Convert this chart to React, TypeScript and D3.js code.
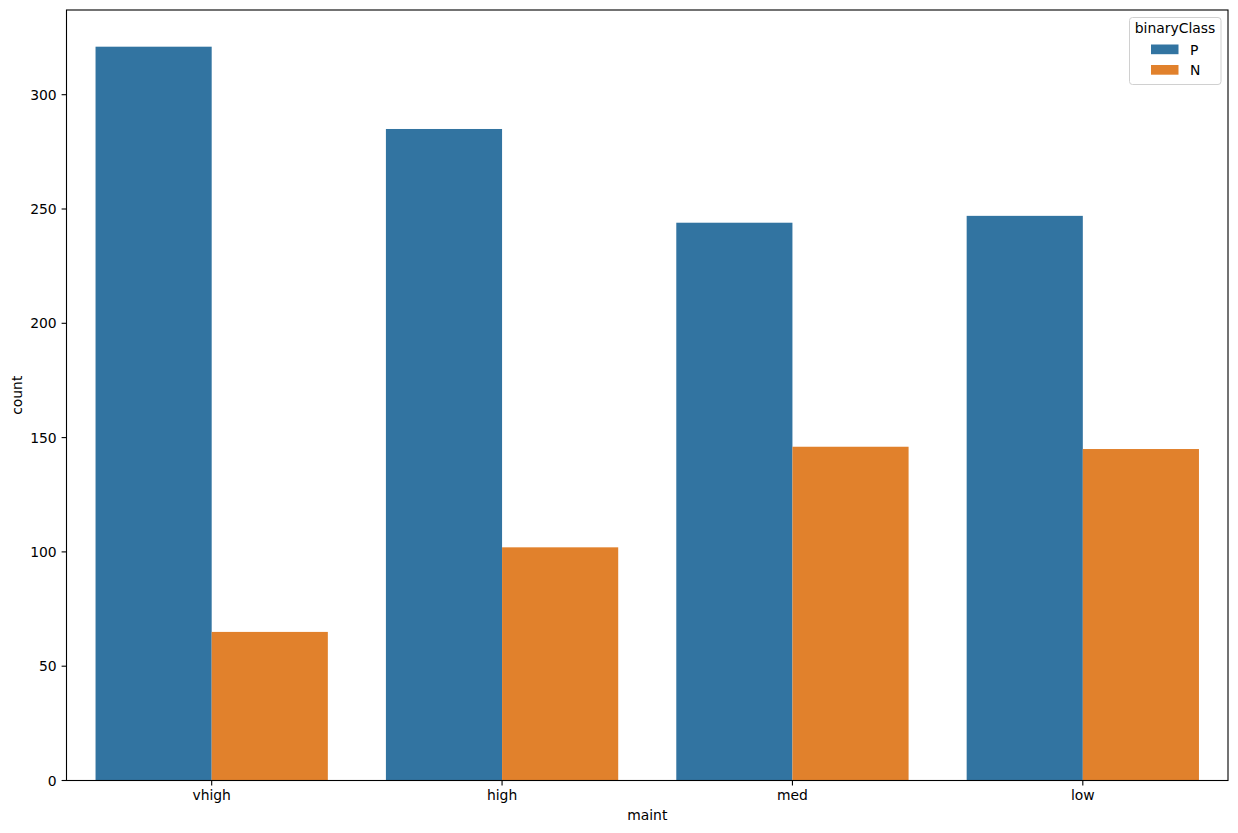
import React from "react";
import * as d3 from "d3";

const categories = ["vhigh", "high", "med", "low"];
const hues = ["P", "N"];
const countP = [321, 285, 244, 247];
const countN = [65, 102, 146, 145];
const hueColors = ["#3274a1", "#e1812c"];
const yTicks = [0, 50, 100, 150, 200, 250, 300];

const W = 1238;
const H = 833;
const M = { left: 66.5, right: 1228, top: 10, bottom: 780.5 };
const FONT = "DejaVu Sans, sans-serif";
const FS = 13.9;

export default function App() {
  const series = [countP, countN];
  const maxV = d3.max([...countP, ...countN]) as number;
  const y = d3.scaleLinear().domain([0, maxV * 1.05]).range([M.bottom, M.top]);
  const x = d3
    .scaleLinear()
    .domain([-0.5, categories.length - 0.5])
    .range([M.left, M.right]);
  const barW = 0.8 / hues.length;

  return (
    <svg
      width={W}
      height={H}
      style={{ position: "absolute", left: 0, top: 0, background: "#fff" }}
      fontFamily={FONT}
    >
      <rect x={0} y={0} width={W} height={H} fill="#fff" />
      {categories.map((c, i) =>
        hues.map((h, j) => {
          const x0 = x(i - 0.4 + j * barW);
          const x1 = x(i - 0.4 + (j + 1) * barW);
          const v = series[j][i];
          return (
            <rect
              key={c + h}
              x={x0}
              y={y(v)}
              width={x1 - x0}
              height={y(0) - y(v)}
              fill={hueColors[j]}
            />
          );
        })
      )}
      {/* spines */}
      <rect
        x={M.left}
        y={M.top}
        width={M.right - M.left}
        height={M.bottom - M.top}
        fill="none"
        stroke="#000"
        strokeWidth={1.1}
      />
      {/* y ticks */}
      {yTicks.map((t) => (
        <g key={t}>
          <line x1={M.left - 4.9} x2={M.left} y1={y(t)} y2={y(t)} stroke="#000" strokeWidth={1.1} />
          <text
            x={M.left - 9.8}
            y={y(t)}
            textAnchor="end"
            dominantBaseline="central"
            fontSize={FS}
            fill="#000"
          >
            {t}
          </text>
        </g>
      ))}
      {/* x ticks */}
      {categories.map((c, i) => (
        <g key={c}>
          <line x1={x(i)} x2={x(i)} y1={M.bottom} y2={M.bottom + 4.9} stroke="#000" strokeWidth={1.1} />
          <text x={x(i)} y={M.bottom + 19} textAnchor="middle" fontSize={FS} fill="#000">
            {c}
          </text>
        </g>
      ))}
      <text x={(M.left + M.right) / 2} y={820} textAnchor="middle" fontSize={FS} fill="#000">
        maint
      </text>
      <text
        transform={`translate(22,${(M.top + M.bottom) / 2}) rotate(-90)`}
        textAnchor="middle"
        fontSize={FS}
        fill="#000"
      >
        count
      </text>
      {/* legend */}
      <g>
        <rect
          x={1129.5}
          y={17.5}
          width={91.5}
          height={67}
          rx={3}
          fill="#fff"
          fillOpacity={0.8}
          stroke="#d0d0d0"
          strokeWidth={1}
        />
        <text x={1175} y={33} textAnchor="middle" fontSize={FS} fill="#000">
          binaryClass
        </text>
        {hues.map((h, j) => (
          <g key={h}>
            <rect x={1151} y={44.5 + j * 20.5} width={27.5} height={9.7} fill={hueColors[j]} />
            <text x={1190} y={49.5 + j * 20.5} dominantBaseline="central" fontSize={FS} fill="#000">
              {h}
            </text>
          </g>
        ))}
      </g>
    </svg>
  );
}
